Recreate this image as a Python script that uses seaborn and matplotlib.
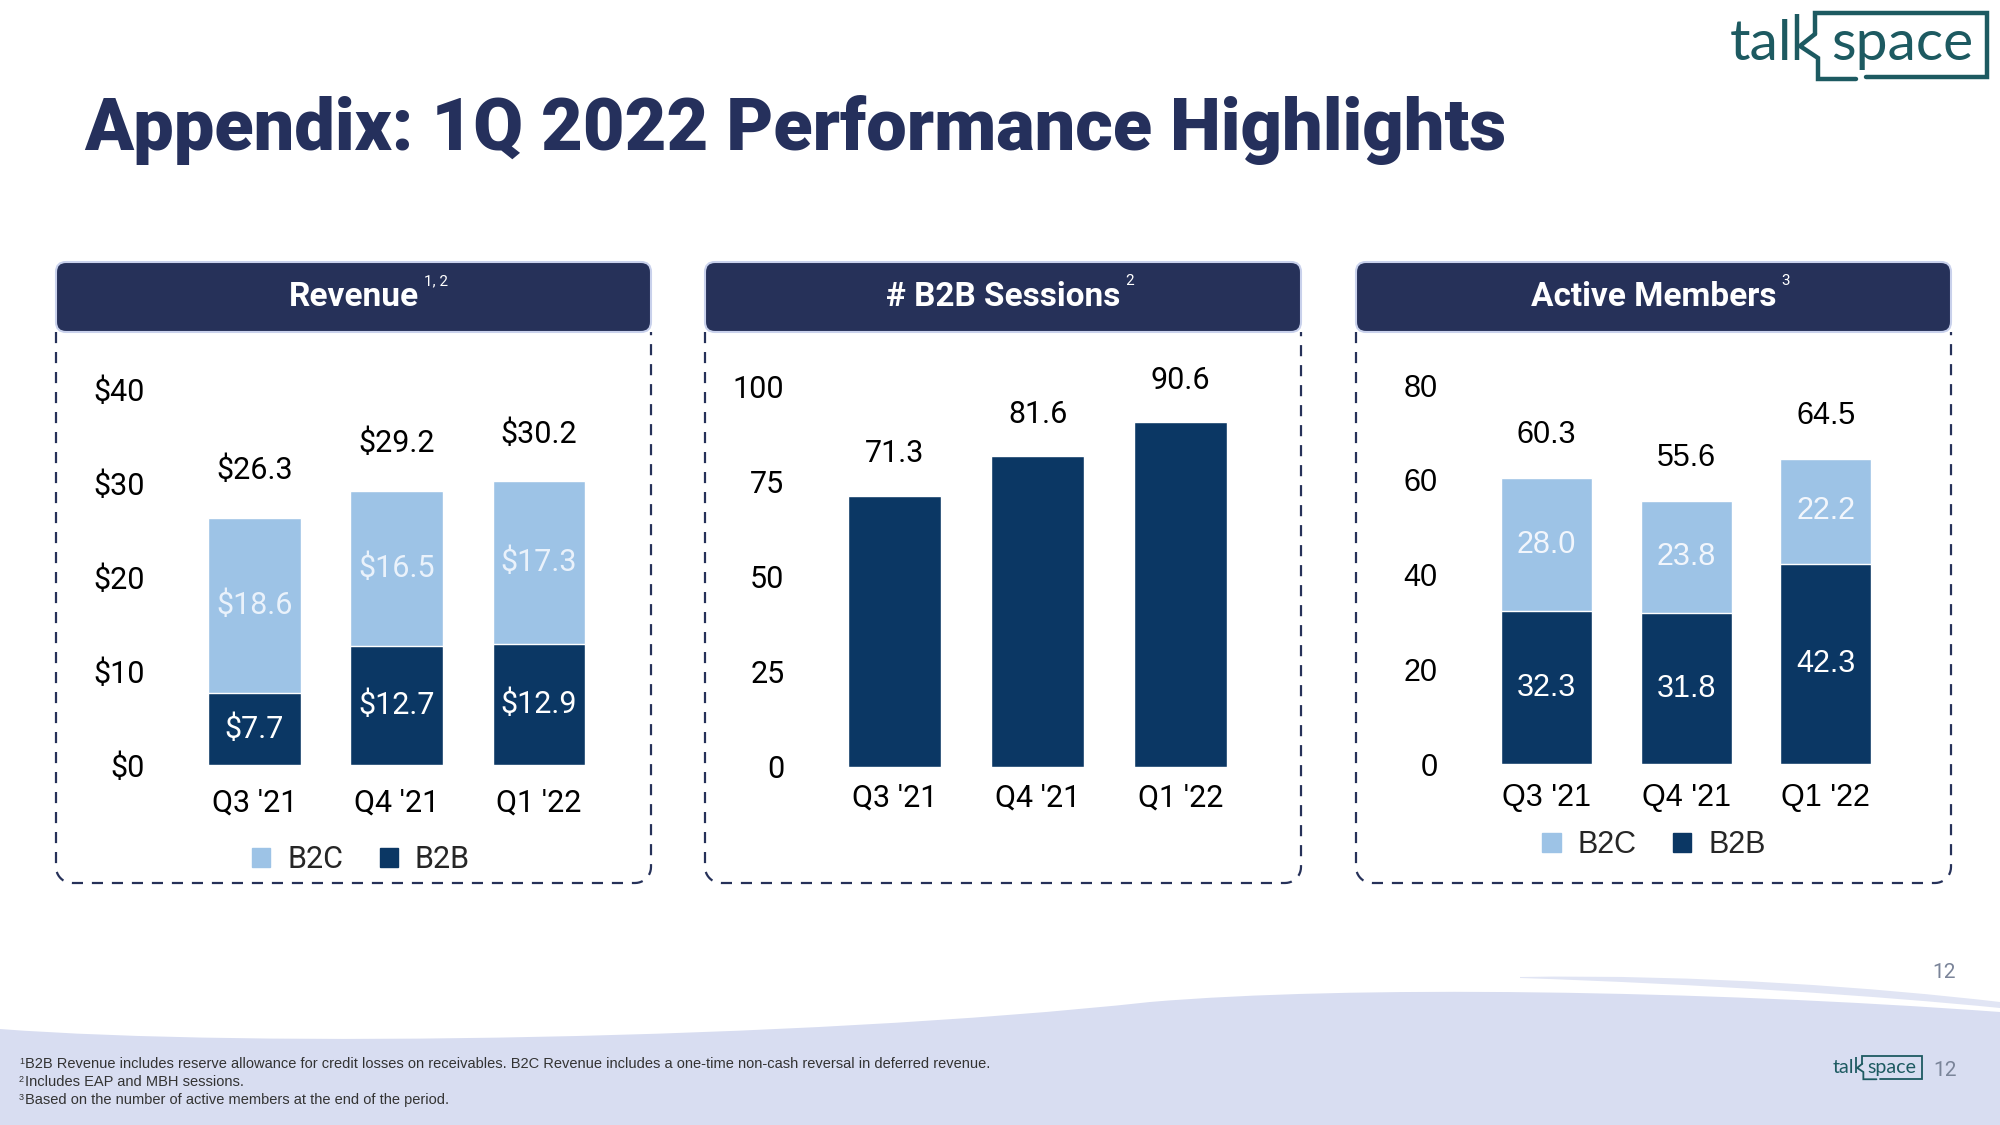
import matplotlib
matplotlib.use("Agg")
import matplotlib.pyplot as plt
import seaborn as sns
import numpy as np
from matplotlib.patches import FancyBboxPatch, PathPatch, Patch
from matplotlib.path import Path

# ---------------- data ----------------
quarters = ["Q3 '21", "Q4 '21", "Q1 '22"]
revenue_b2b = [7.7, 12.7, 12.9]
revenue_b2c = [18.6, 16.5, 17.3]
revenue_ticks = [0, 10, 20, 30, 40]
revenue_tick_labels = ["$0", "$10", "$20", "$30", "$40"]
sessions_b2b = [71.3, 81.6, 90.6]
sessions_ticks = [0, 25, 50, 75, 100]
sessions_tick_labels = ["0", "25", "50", "75", "100"]
members_b2b = [32.3, 31.8, 42.3]
members_b2c = [28.0, 23.8, 22.2]
members_ticks = [0, 20, 40, 60, 80]
members_tick_labels = ["0", "20", "40", "60", "80"]
legend_labels = ["B2C", "B2B"]

# ---------------- style ----------------
sns.set_theme(style="white")
plt.rcParams["font.family"] = ["Roboto", "DejaVu Sans"]

LIGHT = "#9dc3e6"
DARK = "#0b3764"
NAVY = "#263159"
TITLE = "#25305c"
TEAL = "#1d5a61"
ARIAL = ["Liberation Sans", "DejaVu Sans"]
LOGOFONT = ["Lato", "DejaVu Sans"]
FS = 22

W, H = 2000, 1125
fig = plt.figure(figsize=(20, 11.25), dpi=100)
fig.patch.set_facecolor("white")

bg = fig.add_axes([0, 0, 1, 1])
bg.set_xlim(0, W)
bg.set_ylim(H, 0)
bg.axis("off")

# ---------------- bottom wave ----------------
M, C, L, CL = Path.MOVETO, Path.CURVE4, Path.LINETO, Path.CLOSEPOLY
wave_v = [(0, 1029), (250, 1048), (800, 1040), (1150, 1002), (1350, 985), (1700, 990),
          (2000, 1012), (2000, 1125), (0, 1125), (0, 1029)]
wave_c = [M, C, C, C, C, C, C, L, L, CL]
bg.add_patch(PathPatch(Path(wave_v, wave_c), fc="#d8ddf1", ec="none", zorder=0))
streak_v = [(1520, 977), (1700, 974), (1880, 988), (2000, 1002), (2000, 1008),
            (1880, 996), (1700, 984), (1520, 978), (1520, 977)]
streak_c = [M, C, C, C, L, C, C, C, CL]
bg.add_patch(PathPatch(Path(streak_v, streak_c), fc="#e1e5f4", ec="none", zorder=0))

# ---------------- title ----------------
bg.text(84, 130, "Appendix: 1Q 2022 Performance Highlights", fontsize=51.9,
        fontweight="black", color=TITLE, ha="left", va="center")


# ---------------- logo ----------------
def draw_logo(ox, oy, s, lw):
    fs = 41 * s
    bg.text(ox, oy + 60 * s, "tal", fontsize=fs, color=TEAL,
            family=LOGOFONT, ha="left", va="baseline")
    bg.plot([ox + 67 * s, ox + 67 * s], [oy + 14 * s, oy + 60 * s], color=TEAL,
            lw=lw, solid_capstyle="butt")
    box = [(85, 34), (85, 13), (257, 13), (257, 77), (136, 77)]
    bg.plot([ox + x * s for x, y in box], [oy + y * s for x, y in box], color=TEAL,
            lw=lw, solid_joinstyle="miter")
    notch = [(85, 34), (70, 46), (88, 58), (88, 79), (126, 79)]
    bg.plot([ox + x * s for x, y in notch], [oy + y * s for x, y in notch], color=TEAL,
            lw=lw, solid_joinstyle="miter")
    bg.text(ox + 101 * s, oy + 60 * s, "space", fontsize=fs, color=TEAL,
            family=LOGOFONT, ha="left", va="baseline")


draw_logo(1730, 0, 1.0, 3.2)
draw_logo(1833, 1052, 0.345, 1.3)

bg.text(1944, 972, "12", fontsize=15, color="#7a8499", ha="center", va="center")
bg.text(1945, 1071, "12", fontsize=15, color="#7a8499", ha="center", va="center")

# ---------------- footnotes ----------------
notes = [
    ("1", "B2B Revenue includes reserve allowance for credit losses on receivables. "
          "B2C Revenue includes a one-time non-cash reversal in deferred revenue."),
    ("2", "Includes EAP and MBH sessions."),
    ("3", "Based on the number of active members at the end of the period."),
]
for i, (sup, txt) in enumerate(notes):
    y = 1064 + i * 18
    bg.text(19, y - 3, sup, fontsize=6.5, color="#333333", family=ARIAL,
            ha="left", va="center")
    bg.text(25, y, txt, fontsize=10.5, color="#333333", family=ARIAL,
            ha="left", va="center")


# ---------------- panel frames ----------------
def rounded_dash_path(x0, x1, ytop, ybot, r):
    pts = [(x0, ytop), (x0, ybot - r)]
    a = np.linspace(np.pi, np.pi / 2, 12)
    pts += [(x0 + r + r * np.cos(t), ybot - r + r * np.sin(t)) for t in a]
    pts += [(x1 - r, ybot)]
    a = np.linspace(np.pi / 2, 0, 12)
    pts += [(x1 - r + r * np.cos(t), ybot - r + r * np.sin(t)) for t in a]
    pts += [(x1, ytop)]
    return Path(pts)


panels = [(56, 651, "Revenue", "1, 2"), (705, 1301, "# B2B Sessions", "2"),
          (1356, 1951, "Active Members", "3")]
for x0, x1, name, sup in panels:
    bg.add_patch(PathPatch(rounded_dash_path(x0, x1, 332, 883, 16), fc="none",
                           ec=NAVY, lw=1.6, ls=(0, (5, 4)), zorder=1))
    bg.add_patch(FancyBboxPatch((x0, 262), x1 - x0, 70,
                                boxstyle="round,pad=0,rounding_size=10",
                                fc=NAVY, ec="#c9d1ec", lw=1.5, zorder=2))
    t = bg.text((x0 + x1) / 2, 297, name, fontsize=24, fontweight="bold",
                color="white", ha="center", va="center", zorder=3)
    bg.annotate(sup, xy=(1, 0.9), xycoords=t, xytext=(4, 2),
                textcoords="offset points", fontsize=11, color="white",
                ha="left", va="center", zorder=3)


def make_ax(left, right, top, bottom):
    ax = fig.add_axes([left / W, 1 - bottom / H, (right - left) / W, (bottom - top) / H])
    ax.set_facecolor("none")
    return ax


def style_ax(ax, ticks, labels, ymax, ypad, xpad, family=None):
    ax.set_ylim(0, ymax)
    ax.set_xlim(-0.5, 2.5)
    ax.set_yticks(ticks, labels)
    ax.tick_params(axis="y", length=0, pad=ypad, labelsize=FS, labelcolor="black")
    ax.tick_params(axis="x", length=0, pad=xpad, labelsize=FS, labelcolor="black")
    ax.set_xlabel("")
    ax.set_ylabel("")
    ax.grid(False)
    sns.despine(ax=ax, left=True, bottom=True)
    if family:
        for lab in ax.get_xticklabels() + ax.get_yticklabels():
            lab.set_family(family)


# ---------------- Revenue ----------------
ax1 = make_ax(183.4, 610, 389, 765)
rev_total = [a + b for a, b in zip(revenue_b2b, revenue_b2c)]
sns.barplot(x=quarters, y=rev_total, color=LIGHT, width=0.65, saturation=1, ax=ax1)
sns.barplot(x=quarters, y=revenue_b2b, color=DARK, width=0.65, saturation=1, ax=ax1)
style_ax(ax1, revenue_ticks, revenue_tick_labels, 40, 28, 17)
for i, (b, c) in enumerate(zip(revenue_b2b, revenue_b2c)):
    ax1.annotate(f"${b + c:.1f}", (i, b + c), xytext=(0, 34), textcoords="offset points",
                 ha="center", va="center", fontsize=FS, color="black",
                 annotation_clip=False)
    ax1.text(i, b + c / 2, f"${c:.1f}", ha="center", va="center", fontsize=FS,
             color="#eaf2fb")
    ax1.text(i, b / 2, f"${b:.1f}", ha="center", va="center", fontsize=FS,
             color="white")
fig.legend(handles=[Patch(color=LIGHT, label=legend_labels[0]),
                    Patch(color=DARK, label=legend_labels[1])],
           loc="center", bbox_to_anchor=(361 / W, 1 - 860 / H), ncol=2, frameon=False,
           fontsize=FS, handlelength=0.6, handleheight=0.6, handletextpad=0.55,
           columnspacing=1.2)

# ---------------- Sessions ----------------
ax2 = make_ax(823.3, 1251.9, 386.5, 766.6)
sns.barplot(x=quarters, y=sessions_b2b, color=DARK, width=0.65, saturation=1, ax=ax2)
style_ax(ax2, sessions_ticks, sessions_tick_labels, 100, 28, 12)
for i, v in enumerate(sessions_b2b):
    ax2.annotate(f"{v:.1f}", (i, v), xytext=(0, 30), textcoords="offset points",
                 ha="center", va="center", fontsize=FS, color="black",
                 annotation_clip=False)

# ---------------- Active Members ----------------
ax3 = make_ax(1476.7, 1895.7, 385.2, 764)
mem_total = [a + b for a, b in zip(members_b2b, members_b2c)]
sns.barplot(x=quarters, y=mem_total, color=LIGHT, width=0.65, saturation=1, ax=ax3)
sns.barplot(x=quarters, y=members_b2b, color=DARK, width=0.65, saturation=1, ax=ax3)
style_ax(ax3, members_ticks, members_tick_labels, 80, 28, 14, family=ARIAL)
for i, (b, c) in enumerate(zip(members_b2b, members_b2c)):
    ax3.annotate(f"{b + c:.1f}", (i, b + c), xytext=(0, 31), textcoords="offset points",
                 ha="center", va="center", fontsize=FS, color="black", family=ARIAL,
                 annotation_clip=False)
    ax3.text(i, b + c / 2, f"{c:.1f}", ha="center", va="center", fontsize=FS,
             color="#f2f6fc", family=ARIAL)
    ax3.text(i, b / 2, f"{b:.1f}", ha="center", va="center", fontsize=FS,
             color="white", family=ARIAL)
fig.legend(handles=[Patch(color=LIGHT, label=legend_labels[0]),
                    Patch(color=DARK, label=legend_labels[1])],
           loc="center", bbox_to_anchor=(1654 / W, 1 - 845 / H), ncol=2, frameon=False,
           handlelength=0.6, handleheight=0.6, handletextpad=0.55,
           columnspacing=1.2, prop={"family": ARIAL, "size": FS})

fig.savefig("out.png", dpi=100)
